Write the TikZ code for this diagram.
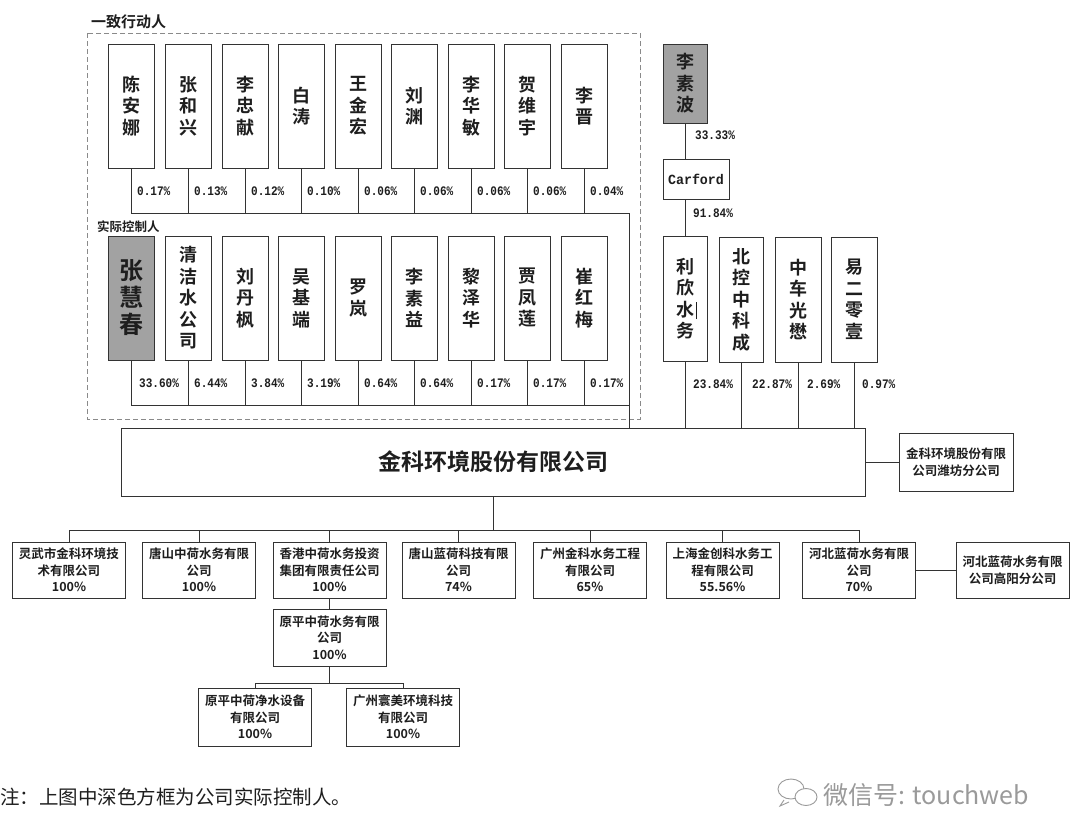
\documentclass[tikz,border=0pt]{standalone}
\usepackage{fontspec}
\setmainfont{Noto Sans CJK SC}[BoldFont={Noto Sans CJK SC Bold}]
\newfontfamily\pctfont{Liberation Mono}[FakeStretch=0.85]
\newfontfamily\carfont{Liberation Mono}[FakeStretch=0.95]
\definecolor{linec}{HTML}{333333}
\definecolor{txtc}{HTML}{1E1E1E}
\definecolor{ctrlfill}{HTML}{A2A2A2}
\definecolor{dashc}{HTML}{8A8A8A}
\definecolor{wmc}{HTML}{9A9A9A}
\begin{document}
\begin{tikzpicture}[x=1pt,y=-1pt,
  ln/.style={draw=linec,line width=0.9pt},
  pbox/.style={draw=linec,line width=0.9pt,fill=white,minimum width=46pt,minimum height=124pt,inner sep=0pt,align=center,font=\fontsize{18}{21.5}\selectfont\bfseries,text=txtc},
  ctrl/.style={pbox,fill=ctrlfill},
  pct/.style={font=\pctfont\fontsize{13}{13}\selectfont\bfseries,text=txtc,anchor=west,inner sep=0pt},
  cbox/.style={draw=linec,line width=0.9pt,fill=white,minimum width=113pt,minimum height=56pt,inner sep=0pt,align=center,font=\fontsize{12.5}{16.5}\selectfont\bfseries,text=txtc},
  grp/.style={font=\fontsize{15}{15}\selectfont\bfseries,text=txtc,anchor=west,inner sep=0pt}
]
\useasboundingbox[fill=white] (0,0) rectangle (1080,839);

% dashed group frame
\draw[dashc,line width=0.9pt,dash pattern=on 5pt off 3pt] (87,33) rectangle (640,419);
\node[grp] (g1) at (91,22) {一致行动人};
\node[grp,font=\fontsize{12.5}{12.5}\selectfont\bfseries] (g2) at (97,227) {实际控制人};

% top row
\foreach \x/\n/\p [count=\i] in {131/{陈\\安\\娜}/0.17\%,188/{张\\和\\兴}/0.13\%,245/{李\\忠\\献}/0.12\%,301/{白\\涛}/0.10\%,358/{王\\金\\宏}/0.06\%,414/{刘\\渊}/0.06\%,471/{李\\华\\敏}/0.06\%,527/{贺\\维\\宇}/0.06\%,584/{李\\晋}/0.04\%}{
  \node[pbox] (t\i) at (\x,106) {\n};
  \node[pct] (tp\i) at (\x+6,191) {\p};
}
% bottom row
\node[ctrl,font=\fontsize{24}{27}\selectfont\bfseries] (b1) at (131,298) {张\\慧\\春};
\node[pct] (bp1) at (139,383) {33.60\%};
\foreach \x/\n/\p [count=\i from 2] in {188/{清\\洁\\水\\公\\司}/6.44\%,245/{刘\\丹\\枫}/3.84\%,301/{吴\\基\\端}/3.19\%,358/{罗\\岚}/0.64\%,414/{李\\素\\益}/0.64\%,471/{黎\\泽\\华}/0.17\%,527/{贾\\凤\\莲}/0.17\%,584/{崔\\红\\梅}/0.17\%}{
  \node[pbox] (b\i) at (\x,298) {\n};
  \node[pct] (bp\i) at (\x+6,383) {\p};
}

% main company
\node[draw=linec,line width=0.9pt,minimum width=744pt,minimum height=68pt,inner sep=0pt,font=\fontsize{23}{23}\selectfont\bfseries,text=txtc] (main) at (493,462) {金科环境股份有限公司};

% buses of the two rows
\coordinate (tb) at (629,213);
\coordinate (bb) at (629,405);
\foreach \i in {1,...,9}{
  \draw[ln] (t\i.south) -- (t\i.south |- tb);
  \draw[ln] (b\i.south) -- (b\i.south |- bb);
}
\draw[ln] (t1.south |- tb) -- (tb) -- (tb |- main.north);
\draw[ln] (b1.south |- bb) -- (bb);

% right shareholders
\node[ctrl,minimum width=44pt,minimum height=79pt] (lsb) at (685,83.5) {李\\素\\波};
\node[draw=linec,line width=0.9pt,fill=white,minimum width=66pt,minimum height=40pt,inner sep=0pt,font=\carfont\fontsize{14}{14}\selectfont\bfseries,text=txtc] (carf) at (696,179) {Carford};
\node[pbox,minimum width=44pt,minimum height=125pt] (r1) at (685,298.5) {利\\欣\\水\rlap{\kern1.5pt\raisebox{-3pt}{\rule{0.7pt}{17pt}}}\\务};
\node[pbox,minimum width=44pt,minimum height=125pt] (r2) at (741,299.5) {北\\控\\中\\科\\成};
\node[pbox,minimum width=46pt,minimum height=125pt] (r3) at (798,299.5) {中\\车\\光\\懋};
\node[pbox,minimum width=46pt,minimum height=125pt] (r4) at (854,299.5) {易\\二\\零\\壹};
\draw[ln] (lsb.south) -- (lsb.south |- carf.north);
\draw[ln] (r1.north |- carf.south) -- (r1.north);
\node[pct] (lp1) at (695,135) {33.33\%};
\node[pct] (lp2) at (693,213) {91.84\%};
\foreach \i/\p/\dx in {1/23.84\%/8,2/22.87\%/11,3/2.69\%/9,4/0.97\%/8}{
  \draw[ln] (r\i.south) -- (r\i.south |- main.north);
  \node[pct] (rp\i) at ([xshift=\dx pt]r\i.south |- 0,384) {\p};
}

% Weifang branch
\node[draw=linec,line width=0.9pt,minimum width=114pt,minimum height=58pt,inner sep=0pt,align=center,font=\fontsize{12.5}{16.5}\selectfont\bfseries,text=txtc] (wf) at (956,462) {金科环境股份有限\\公司潍坊分公司};
\draw[ln] (main.east) -- (wf.west);

% subsidiaries
\coordinate (cbus) at (493,530);
\node[cbox] (c1) at (69,570) {灵武市金科环境技\\术有限公司\\100\%};
\node[cbox] (c2) at (199,570) {唐山中荷水务有限\\公司\\100\%};
\node[cbox] (c3) at (329.5,570) {香港中荷水务投资\\集团有限责任公司\\100\%};
\node[cbox] (c4) at (458.5,570) {唐山蓝荷科技有限\\公司\\74\%};
\node[cbox] (c5) at (590,570) {广州金科水务工程\\有限公司\\65\%};
\node[cbox] (c6) at (722.5,570) {上海金创科水务工\\程有限公司\\55.56\%};
\node[cbox] (c7) at (859,570) {河北蓝荷水务有限\\公司\\70\%};
\node[cbox] (c8) at (1012.5,570) {河北蓝荷水务有限\\公司高阳分公司};
\draw[ln] (main.south) -- (cbus);
\draw[ln] (c1.north |- cbus) -- (c7.north |- cbus);
\foreach \i in {1,...,7}{
  \draw[ln] (c\i.north |- cbus) -- (c\i.north);
}
\draw[ln] (c7.east) -- (c8.west);

\node[cbox,minimum height=57pt] (d1) at (329.5,637.5) {原平中荷水务有限\\公司\\100\%};
\draw[ln] (c3.south) -- (d1.north);
\coordinate (dbus) at (329.5,683);
\node[cbox,minimum height=58pt] (e1) at (255,717) {原平中荷净水设备\\有限公司\\100\%};
\node[cbox,minimum height=58pt] (e2) at (403,717) {广州寰美环境科技\\有限公司\\100\%};
\draw[ln] (d1.south) -- (dbus);
\draw[ln] (e1.north) -- (e1.north |- dbus) -- (e2.north |- dbus) -- (e2.north);

% note
\node[anchor=west,inner sep=0pt,font=\fontsize{19.5}{19.5}\selectfont,text=txtc] (note) at (0,797) {注：上图中深色方框为公司实际控制人。};

% watermark
\begin{scope}[wmc,line width=0.9pt]
  \draw (791,789) ellipse [x radius=13pt,y radius=10pt];
  \draw[fill=white] (806,797) ellipse [x radius=11pt,y radius=8.5pt];
  \draw (784,800) -- (780,806) -- (789,802);
\end{scope}
\node[anchor=west,inner sep=0pt,font=\fontsize{25}{25}\selectfont,text=wmc] (wm) at (823,795) {微信号: touchweb};
\end{tikzpicture}
\end{document}
